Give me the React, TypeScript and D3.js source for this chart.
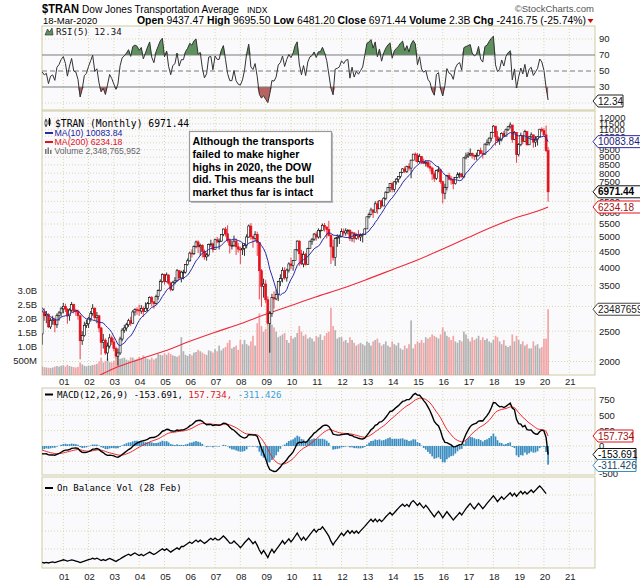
import React from 'react';
import * as d3 from 'd3';

// ---------- DATA ----------
// warm-up monthly closes Jan 1998 .. Feb 2000 (used for indicator seeding and first open)
const warmupCloses = [3250, 3450, 3580, 3600, 3420, 3350, 3200, 2700, 2640, 2900, 3060, 3149,
  3200, 3250, 3310, 3650, 3560, 3460, 3340, 3150, 2900, 3000, 2880, 2977, 2720, 2450];

// monthly bars Mar 2000 .. Mar 2020
const closes = [
  2880, 2800, 2830, 2580, 2700, 2720, 2620, 2810, 2860, 2947,
  3000, 2940, 2800, 2920, 3040, 2900, 2890, 2800, 2330, 2420, 2610, 2640,
  2750, 2850, 2960, 2760, 2800, 2560, 2300, 2340, 2130, 2240, 2380, 2310,
  2200, 2080, 2130, 2360, 2520, 2560, 2620, 2700, 2650, 2880, 2930, 2923,
  2900, 2950, 2890, 2960, 3060, 3200, 3100, 3060, 3230, 3370, 3600, 3798,
  3600, 3780, 3560, 3400, 3580, 3620, 3900, 3700, 3860, 3860, 4080, 4196,
  4440, 4420, 4660, 4820, 4650, 4700, 4500, 4320, 4380, 4730, 4750, 4560,
  4900, 4850, 4850, 5100, 5300, 5120, 4870, 4700, 4700, 4850, 4650, 4571,
  4550, 4600, 4700, 5000, 5420, 5010, 4950, 5100, 4800, 3900, 3480, 3537,
  3150, 2650, 2850, 3200, 3170, 3270, 3600, 3680, 3910, 3700, 3920, 4100,
  4050, 4200, 4550, 4850, 4420, 4100, 4400, 4080, 4590, 4850, 4920, 5107,
  5000, 5250, 5250, 5450, 5380, 5280, 5060, 4650, 4300, 4950, 4980, 5020,
  5200, 5150, 5230, 5250, 4950, 5150, 4950, 5050, 5000, 5050, 5100, 5306,
  5800, 5900, 6100, 6000, 6380, 6150, 6520, 6280, 6650, 6950, 7200, 7400,
  7100, 7500, 7650, 7800, 8050, 8250, 8100, 8400, 8300, 8800, 9200, 9140,
  8700, 9050, 8700, 8600, 8650, 8400, 8300, 7950, 7700, 8150, 8200, 7509,
  6900, 7200, 7850, 7650, 7600, 7400, 7750, 7900, 7950, 7780, 8950, 9070,
  9150, 9250, 9100, 9050, 9100, 9450, 9250, 9200, 9900, 10000, 10350, 10783,
  11300, 10450, 10150, 10250, 10700, 10500, 11000, 11250, 11400, 10250, 10800, 9170,
  9870, 10550, 10100, 10850, 9850, 10450, 10600, 10050, 10250, 10450, 11050, 10936,
  10600, 9437.47, 6971.44,
];
const highs = [
  2930, 2960, 2900, 2850, 2760, 2800, 2760, 2850, 2900, 2990,
  3080, 3060, 2960, 2960, 3100, 3060, 2950, 2930, 2820, 2500, 2680, 2720,
  2780, 2900, 3050, 2980, 2880, 2820, 2580, 2450, 2370, 2300, 2450, 2420,
  2380, 2230, 2200, 2400, 2560, 2620, 2660, 2740, 2780, 2920, 2960, 2980,
  3040, 3030, 3000, 3090, 3100, 3230, 3240, 3120, 3270, 3400, 3660, 3830,
  3800, 3850, 3800, 3600, 3620, 3720, 3950, 3920, 3900, 3930, 4100, 4270,
  4490, 4560, 4700, 4870, 4880, 4760, 4740, 4560, 4450, 4760, 4900, 4800,
  4940, 5000, 4950, 5110, 5320, 5380, 5450, 4950, 4860, 5050, 4950, 4780,
  4650, 4780, 4780, 5100, 5480, 5536, 5050, 5220, 5200, 4800, 3950, 3680,
  3640, 3230, 2900, 3290, 3350, 3400, 3620, 3800, 4000, 4000, 3960, 4150,
  4300, 4220, 4560, 4880, 4880, 4550, 4500, 4450, 4620, 4860, 4960, 5150,
  5200, 5330, 5280, 5520, 5540, 5400, 5630, 5100, 4900, 5000, 5100, 5090,
  5320, 5320, 5330, 5300, 5300, 5200, 5180, 5130, 5260, 5130, 5140, 5330,
  5800, 5980, 6200, 6130, 6500, 6520, 6550, 6580, 6700, 7000, 7220, 7400,
  7500, 7550, 7720, 7820, 8070, 8300, 8400, 8450, 8600, 8830, 9200, 9310,
  9280, 9220, 9050, 8900, 8800, 8800, 8650, 8380, 8100, 8200, 8400, 8250,
  7550, 7400, 7900, 8020, 7830, 7780, 7780, 8050, 8040, 8000, 9000, 9300,
  9350, 9590, 9300, 9170, 9300, 9500, 9650, 9450, 9950, 10250, 10400, 10850,
  11400, 11150, 10900, 10400, 10800, 10900, 11100, 11320, 11623, 11400, 10900, 10750,
  9980, 10770, 10600, 11000, 10900, 10500, 10800, 10600, 10500, 10500, 11080, 11200,
  11160, 11350, 9695.5,
];
const lows = [
  2263, 2700, 2650, 2560, 2540, 2620, 2480, 2560, 2700, 2780,
  2850, 2880, 2640, 2700, 2880, 2850, 2800, 2720, 2033, 2260, 2400, 2560,
  2560, 2680, 2800, 2700, 2650, 2480, 2100, 2200, 2100, 2013, 2200, 2260,
  2160, 2030, 1942, 2100, 2320, 2470, 2500, 2580, 2600, 2640, 2800, 2820,
  2800, 2840, 2780, 2880, 2890, 3050, 3000, 2950, 3040, 3150, 3350, 3570,
  3520, 3580, 3520, 3350, 3360, 3530, 3600, 3650, 3580, 3660, 3820, 4050,
  4170, 4300, 4380, 4600, 4440, 4350, 4300, 4230, 4200, 4330, 4650, 4460,
  4550, 4780, 4560, 4820, 5030, 5020, 4800, 4430, 4560, 4650, 4380, 4460,
  4100, 4380, 4350, 4600, 4970, 4900, 4620, 4850, 4350, 3160, 2988, 3200,
  3080, 2600, 2134, 2780, 2950, 3140, 3120, 3480, 3580, 3650, 3600, 3850,
  3950, 3900, 4200, 4500, 4040, 4070, 4000, 4050, 4070, 4580, 4720, 4860,
  4870, 4940, 4950, 5250, 5200, 4950, 5020, 4100, 4200, 4040, 4650, 4750,
  4990, 5050, 5050, 5100, 4850, 4830, 4800, 4900, 4900, 4850, 4800, 5080,
  5330, 5730, 5870, 5750, 6000, 5930, 6150, 6200, 6280, 6550, 6900, 6950,
  6950, 6950, 7350, 7460, 7700, 8000, 8000, 8000, 8150, 7700, 8800, 8700,
  8580, 8600, 8550, 8550, 8400, 8300, 8100, 7600, 7500, 7600, 8050, 7400,
  6403, 6600, 7050, 7600, 7350, 7100, 7350, 7700, 7700, 7750, 7700, 8850,
  8950, 9050, 8900, 8800, 8820, 9050, 9200, 8900, 9150, 9800, 9800, 10100,
  10750, 9800, 10000, 9850, 10100, 10400, 10500, 10900, 11100, 10000, 10200, 8636,
  9050, 9750, 9900, 10050, 9800, 9850, 10300, 9640, 9700, 9800, 10400, 10800,
  10500, 9340, 6481.2,
];
// monthly volume, billions
const volumesB = [
  0.30, 0.28, 0.27, 0.26, 0.25, 0.27, 0.30, 0.32, 0.30, 0.33,
  0.35, 0.30, 0.36, 0.32, 0.30, 0.28, 0.27, 0.29, 0.45, 0.38, 0.33, 0.31,
  0.34, 0.33, 0.36, 0.37, 0.40, 0.48, 0.62, 0.45, 0.50, 0.58, 0.46, 0.45,
  0.50, 0.55, 0.68, 0.58, 0.60, 0.62, 0.55, 0.52, 0.63, 0.62, 0.55, 0.58,
  0.65, 0.60, 0.70, 0.62, 0.58, 0.55, 0.62, 0.55, 0.60, 0.75, 0.72, 0.70,
  0.78, 0.72, 0.80, 0.75, 0.70, 0.68, 0.65, 0.70, 1.35, 0.85, 0.72, 0.68,
  0.75, 0.70, 0.80, 0.82, 0.90, 0.85, 0.80, 0.75, 0.72, 0.88, 0.85, 0.80,
  0.92, 0.85, 1.05, 0.88, 0.95, 1.00, 1.15, 1.25, 0.95, 1.00, 1.05, 0.90,
  1.25, 1.10, 1.25, 1.10, 1.05, 1.20, 1.40, 1.05, 1.85, 2.20, 1.75, 1.55,
  1.65, 1.75, 2.15, 1.80, 1.70, 1.55, 1.35, 1.40, 1.45, 1.50, 1.25, 1.15,
  1.40, 1.30, 1.35, 1.50, 1.75, 1.55, 1.40, 1.45, 1.30, 1.35, 1.30, 1.20,
  1.40, 1.35, 1.45, 1.25, 1.40, 1.50, 1.55, 2.40, 1.75, 1.60, 1.30, 1.35,
  1.35, 1.20, 1.25, 1.15, 1.35, 1.25, 1.15, 1.05, 1.10, 1.15, 1.10, 1.05,
  1.20, 1.15, 1.05, 1.20, 1.25, 1.30, 1.15, 1.05, 1.10, 1.20, 1.05, 1.00,
  1.20, 1.10, 1.05, 1.15, 0.95, 0.90, 1.05, 0.95, 1.10, 1.95, 0.95, 1.10,
  1.20, 1.15, 1.25, 1.15, 1.35, 1.30, 1.35, 1.45, 1.40, 1.35, 1.30, 1.45,
  1.70, 1.55, 1.40, 1.35, 1.25, 1.40, 1.20, 1.15, 1.25, 1.20, 1.55, 1.45,
  1.30, 1.20, 1.35, 1.25, 1.30, 1.40, 1.25, 1.35, 1.25, 1.30, 1.20, 1.15,
  1.25, 1.40, 1.35, 1.20, 1.10, 1.25, 1.05, 1.00, 1.05, 1.45, 1.20, 1.40,
  1.25, 1.10, 1.20, 1.05, 1.10, 0.95, 0.95, 1.20, 1.05, 1.10, 0.95, 1.00,
  1.30, 1.30, 2.35,
];
// MA(200)
const ma200Dates = ['2002-01', '2003-01', '2004-01', '2005-01', '2006-01', '2007-01', '2008-01', '2009-01', '2010-01',
  '2011-01', '2012-01', '2013-01', '2014-01', '2015-01', '2016-01', '2017-01', '2018-01', '2019-01', '2020-01', '2020-03'];
const ma200Values = [1730, 1900, 2030, 2160, 2320, 2480, 2640, 2830, 3020, 3220, 3420, 3660, 3930, 4220, 4580,
  4980, 5400, 5800, 6150, 6234.18];

// price ticks that are visible (10000, 7000, 3000 sit under the value tags)
const priceTicks = [12000, 11500, 11000, 10500, 9500, 9000, 8500, 8000, 7500, 6500, 6000, 5500,
  5000, 4500, 4000, 3500, 2500, 2000];
const priceGrid = [12000, 11500, 11000, 10500, 10000, 9500, 9000, 8500, 8000, 7500, 7000, 6500, 6000, 5500,
  5000, 4500, 4000, 3500, 3000, 2500, 2000];
const volTicks = [3.0, 2.5, 2.0, 1.5, 1.0, 0.5];
const volTickLabels = ['3.0B', '2.5B', '2.0B', '1.5B', '1.0B', '500M'];
const rsiTicks = [90, 70, 50, 30];
const macdTicks = [750, 500, 250, 0, -500];
const yearLabels = ['01', '02', '03', '04', '05', '06', '07', '08', '09', '10', '11', '12', '13', '14', '15',
  '16', '17', '18', '19', '20', '21'];

const annotation = ['Although the transports', 'failed to make higher', 'highs in 2020, the DOW',
  'did. This means the bull', 'market thus far is intact'];

// ---------- LAYOUT ----------
const PL = 42, PR = 595;
const rsiTop = 26, rsiBot = 110;
const mainTop = 111, mainBot = 375;
const macdTop = 388, macdBot = 475;
const obvTop = 477, obvBot = 568;

const MONO = "'DejaVu Sans Mono', monospace";
const SANS = "'Liberation Sans', Arial, sans-serif";
const GRID = '#d9d7b0';
const BORDER = '#cfcca0';
const PANEL = '#fafafd';

function ema(vals: number[], n: number) {
  const k = 2 / (n + 1);
  const out: number[] = [];
  let e = vals[0];
  vals.forEach((v, i) => { e = i === 0 ? v : v * k + e * (1 - k); out.push(e); });
  return out;
}
function rsiCalc(vals: number[], n: number) {
  const out: number[] = new Array(vals.length).fill(NaN);
  let ag = 0, al = 0;
  for (let i = 1; i < vals.length; i++) {
    const ch = vals[i] - vals[i - 1];
    const g = Math.max(ch, 0), l = Math.max(-ch, 0);
    if (i <= n) {
      ag += g / n; al += l / n;
      if (i === n) out[i] = al === 0 ? 100 : 100 - 100 / (1 + ag / al);
    } else {
      ag = (ag * (n - 1) + g) / n; al = (al * (n - 1) + l) / n;
      out[i] = al === 0 ? 100 : 100 - 100 / (1 + ag / al);
    }
  }
  return out;
}

function Tag({ y, text, stroke, color, bold, w }: any) {
  const h = 12;
  const x0 = 593;
  const x1 = x0 + w;
  return (
    <g>
      <path d={`M${x0},${y} L${x0 + 5},${y - h / 2} L${x1},${y - h / 2} L${x1},${y + h / 2} L${x0 + 5},${y + h / 2} Z`}
        fill="#fff" stroke={stroke} strokeWidth={1} />
      <text x={x0 + 5} y={y + 3.6} fontSize={10} fontFamily={SANS} fill={color} fontWeight={bold ? 'bold' : 'normal'}>{text}</text>
    </g>
  );
}

export default function App() {
  const W0 = warmupCloses.length;
  const all = [...warmupCloses, ...closes];
  const dates = closes.map((_, i) => new Date(2000, 2 + i, 1));
  const opens = closes.map((_, i) => (i === 0 ? warmupCloses[W0 - 1] : closes[i - 1]));

  const x = d3.scaleTime().domain([new Date(2001, 0, 1), new Date(2021, 0, 1)]).range([63.3, 569.3]);
  const yearXs = yearLabels.map((_, k) => x(new Date(2001 + k, 0, 1)));

  const yP = d3.scaleLog().domain([1811, 12634]).range([mainBot, mainTop]);
  const yV = d3.scaleLinear().domain([0, 1]).range([mainBot, mainBot - 28]);
  const yR = d3.scaleLinear().domain([1.25, 106.25]).range([rsiBot, rsiTop]);
  const yM = d3.scaleLinear().domain([-471.5, 943]).range([macdBot, macdTop]);

  // indicators
  const ma10 = all.map((_, i) => (i < 9 ? NaN : d3.mean(all.slice(i - 9, i + 1)) as number)).slice(W0);
  const e12 = ema(all, 12), e26 = ema(all, 26);
  const macdAll = all.map((_, i) => e12[i] - e26[i]);
  const sigAll = ema(macdAll, 9);
  const macd = macdAll.slice(W0), sig = sigAll.slice(W0);
  const hist = macd.map((m, i) => m - sig[i]);
  const rsi = rsiCalc(all, 5).slice(W0);

  const obv: number[] = [];
  let acc = 0;
  for (let i = 0; i < closes.length - 1; i++) {
    const prev = i === 0 ? warmupCloses[W0 - 1] : closes[i - 1];
    if (i > 0) acc += closes[i] > prev ? volumesB[i] : closes[i] < prev ? -volumesB[i] : 0;
    obv.push(acc);
  }
  const obvExt = d3.extent(obv) as [number, number];
  const yO = d3.scaleLinear().domain(obvExt).range([563, 486]);

  const lineMA10 = d3.line<number>().defined((d) => !isNaN(d)).x((_, i) => x(dates[i])).y((d) => yP(d))(ma10);
  const ma200Pts = ma200Dates.map((s, i) => [x(d3.timeParse('%Y-%m')(s) as Date), yP(ma200Values[i])] as [number, number]);
  const lineMA200 = d3.line().curve(d3.curveMonotoneX)(ma200Pts);
  const lineRSI = d3.line<number>().defined((d) => !isNaN(d)).x((_, i) => x(dates[i])).y((d) => yR(d))(rsi);
  const areaHi = d3.area<number>().x((_, i) => x(dates[i])).y0(yR(70)).y1((d) => yR(Math.max(d, 70)))(rsi);
  const areaLo = d3.area<number>().x((_, i) => x(dates[i])).y0(yR(30)).y1((d) => yR(Math.min(d, 30)))(rsi);
  const lineMACD = d3.line<number>().x((_, i) => x(dates[i])).y((d) => yM(d))(macd);
  const lineSig = d3.line<number>().x((_, i) => x(dates[i])).y((d) => yM(d))(sig);
  const lineOBV = d3.line<number>().x((_, i) => x(dates[i])).y((d) => yO(d))(obv);

  const vGrid = (top: number, bot: number) =>
    yearXs.map((gx, k) => <line key={'vg' + k} x1={gx} x2={gx} y1={top} y2={bot} stroke={GRID} strokeDasharray="1,2" />);
  const hGrid = (ys: number[], key: string) =>
    ys.map((gy, k) => <line key={key + k} x1={PL} x2={PR} y1={gy} y2={gy} stroke={GRID} strokeDasharray="1,2" />);
  const panel = (top: number, bot: number) => (
    <rect x={PL} y={top} width={PR - PL} height={bot - top} fill={PANEL} stroke={BORDER} strokeWidth={1} />
  );
  const xLabels = (yb: number, key: string) =>
    yearLabels.map((t, k) => (
      <text key={key + k} x={yearXs[k] + 1} y={yb} fontSize={9.5} fontFamily={SANS} textAnchor="middle" fill="#222">{t}</text>
    ));

  return (
    <svg width={640} height={584} style={{ position: 'absolute', left: 0, top: 0, background: '#fff' }}>
      <defs>
        <clipPath id="cRsi"><rect x={PL} y={rsiTop} width={PR - PL} height={rsiBot - rsiTop} /></clipPath>
        <clipPath id="cMain"><rect x={PL} y={mainTop} width={PR - PL} height={mainBot - mainTop} /></clipPath>
        <clipPath id="cMacd"><rect x={PL} y={macdTop} width={PR - PL} height={macdBot - macdTop} /></clipPath>
        <clipPath id="cObv"><rect x={PL} y={obvTop} width={PR - PL} height={obvBot - obvTop} /></clipPath>
      </defs>

      {/* Header */}
      <text x={42} y={12.5} fontSize={12.5} fontWeight="bold" fontFamily={SANS} fill="#000" textLength={37} lengthAdjust="spacingAndGlyphs">$TRAN</text>
      <text x={82} y={12.5} fontSize={10.5} fontFamily={SANS} fill="#000" textLength={157} lengthAdjust="spacingAndGlyphs">Dow Jones Transportation Average</text>
      <text x={247} y={12.5} fontSize={8.5} fontFamily={SANS} fill="#000">INDX</text>
      <text x={594} y={12} fontSize={9.5} fontFamily={SANS} fill="#555" textAnchor="end">©StockCharts.com</text>
      <text x={43} y={23.5} fontSize={9.5} fontFamily={SANS} fill="#000">18-Mar-2020</text>
      <text x={137} y={23.5} fontSize={10} fontFamily={SANS} fill="#000" textLength={449} lengthAdjust="spacingAndGlyphs">
        <tspan fontWeight="bold">Open</tspan><tspan> 9437.47  </tspan>
        <tspan fontWeight="bold">High</tspan><tspan> 9695.50  </tspan>
        <tspan fontWeight="bold">Low</tspan><tspan> 6481.20  </tspan>
        <tspan fontWeight="bold">Close</tspan><tspan> 6971.44  </tspan>
        <tspan fontWeight="bold">Volume</tspan><tspan> 2.3B  </tspan>
        <tspan fontWeight="bold">Chg</tspan><tspan> -2416.75 (-25.74%)</tspan>
      </text>
      <path d="M587.5,19 L593.5,19 L590.5,23 Z" fill="#d00" />

      {/* RSI panel */}
      {panel(rsiTop, rsiBot)}
      {vGrid(rsiTop, rsiBot)}
      {hGrid([yR(90), yR(10)], 'rg')}
      <g clipPath="url(#cRsi)">
        <path d={areaHi || ''} fill="#5f915f" stroke="none" />
        <path d={areaLo || ''} fill="#b86262" stroke="none" />
        <line x1={PL} x2={PR} y1={yR(70)} y2={yR(70)} stroke="#7a7a7a" />
        <line x1={PL} x2={PR} y1={yR(30)} y2={yR(30)} stroke="#7a7a7a" />
        <line x1={PL} x2={PR} y1={yR(50)} y2={yR(50)} stroke="#7a7a7a" strokeDasharray="5,3" />
        <path d={lineRSI || ''} fill="none" stroke="#333" strokeWidth={1} />
      </g>
      {rsiTicks.map((t) => (
        <text key={'rt' + t} x={599} y={yR(t) + 3.4} fontSize={9.5} fontFamily={SANS} fill="#222">{t}</text>
      ))}
      <path d="M45,35 L47.5,29 L49.5,32 L52,28 L53,35 Z" fill="#5f915f" stroke="#222" strokeWidth={0.6} />
      <text x={56} y={35} fontSize={9.1} fontFamily={MONO} fill="#111">RSI(5) 12.34</text>
      <Tag y={101} text="12.34" stroke="#222" color="#111" w={30} />

      {/* Main panel */}
      {panel(mainTop, mainBot)}
      {vGrid(mainTop, mainBot)}
      {hGrid(priceGrid.map((p) => yP(p)), 'pg')}
      <g clipPath="url(#cMain)">
        {volumesB.map((v, i) => {
          const down = closes[i] < opens[i];
          const xi = x(dates[i]);
          return <rect key={'v' + i} x={xi - 0.85} y={yV(v)} width={1.7} height={mainBot - yV(v)}
            fill={down ? '#f29b9b' : '#ababab'} opacity={0.9} />;
        })}
        <path d={lineMA200 || ''} fill="none" stroke="#ee2a3a" strokeWidth={1.1} />
        {closes.map((c, i) => {
          const o = opens[i];
          const h = Math.max(highs[i], o, c);
          const l = Math.min(lows[i], o, c);
          const up = c >= o;
          const col = up ? '#000' : '#e3121c';
          const xi = x(dates[i]);
          const yt = yP(Math.max(o, c)), yb = yP(Math.min(o, c));
          return (
            <g key={'c' + i}>
              <line x1={xi} x2={xi} y1={yP(h)} y2={yP(l)} stroke={col} strokeWidth={0.8} />
              <rect x={xi - 1} y={yt} width={2} height={Math.max(yb - yt, 0.8)} fill={up ? '#fff' : col} stroke={col} strokeWidth={0.6} />
            </g>
          );
        })}
        <path d={lineMA10 || ''} fill="none" stroke="#2a2aa8" strokeWidth={1} />
      </g>
      {priceTicks.map((p) => (
        <text key={'pt' + p} x={599} y={yP(p) + 3.4} fontSize={9.5} fontFamily={SANS} fill="#222">{p}</text>
      ))}
      {volTicks.map((v, k) => (
        <text key={'vt' + k} x={37} y={yV(v) + 3.4} fontSize={9.5} fontFamily={SANS} fill="#222" textAnchor="end">{volTickLabels[k]}</text>
      ))}
      <Tag y={yP(10083.84)} text="10083.84" stroke="#2a2aa8" color="#1a1a7a" w={50} />
      <Tag y={yP(6971.44)} text="6971.44" stroke="#111" color="#000" bold w={50} />
      <Tag y={yP(6234.18)} text="6234.18" stroke="#e3121c" color="#a01010" w={50} />
      <Tag y={yV(2.348765952)} text="23487659" stroke="#444" color="#222" w={50} />

      {/* main legend */}
      <g>
        <line x1={46} x2={46} y1={119} y2={127} stroke="#000" />
        <rect x={45} y={121} width={2} height={4} fill="#fff" stroke="#000" strokeWidth={0.6} />
        <line x1={49.5} x2={49.5} y1={118} y2={126} stroke="#000" />
        <rect x={48.5} y={119.5} width={2} height={5} fill="#000" />
        <text x={55} y={126.5} fontSize={9.7} fontFamily={MONO} fill="#000">$TRAN (Monthly) 6971.44</text>
        <line x1={45} x2={53} y1={133} y2={133} stroke="#2a2aa8" strokeWidth={2} />
        <text x={54.5} y={136} fontSize={8.8} fontFamily={SANS} fill="#1a1a9a">MA(10) 10083.84</text>
        <line x1={45} x2={53} y1={142} y2={142} stroke="#e3121c" strokeWidth={2} />
        <text x={54.5} y={145} fontSize={8.8} fontFamily={SANS} fill="#e3121c">MA(200) 6234.18</text>
        <rect x={45} y={149} width={1.5} height={5} fill="#777" />
        <rect x={47.5} y={147.5} width={1.5} height={6.5} fill="#777" />
        <rect x={50} y={150} width={1.5} height={4} fill="#777" />
        <text x={54.5} y={154} fontSize={8.6} fontFamily={SANS} fill="#666">Volume 2,348,765,952</text>
      </g>

      {/* annotation */}
      <rect x={191} y={133} width={142} height={70} fill="#bbb" />
      <rect x={189.5} y={131.5} width={142} height={70} fill="#fff" stroke="#9a9a9a" strokeWidth={1.2} />
      {annotation.map((t, k) => (
        <text key={'an' + k} x={192.5} y={145 + k * 12.75} fontSize={10.7} fontWeight="bold" fontFamily={SANS} fill="#000">{t}</text>
      ))}

      {xLabels(384.5, 'xl1')}

      {/* MACD panel */}
      {panel(macdTop, macdBot)}
      {vGrid(macdTop, macdBot)}
      {hGrid([750, 500, 250, 0, -250].map((v) => yM(v)), 'mg')}
      <g clipPath="url(#cMacd)">
        {hist.map((h, i) => {
          const xi = x(dates[i]);
          const y0 = yM(0), y1 = yM(h);
          return <rect key={'h' + i} x={xi - 0.85} y={Math.min(y0, y1)} width={1.7} height={Math.abs(y1 - y0)} fill="#3a8dbf" />;
        })}
        <path d={lineSig || ''} fill="none" stroke="#ee2a2a" strokeWidth={1} />
        <path d={lineMACD || ''} fill="none" stroke="#000" strokeWidth={1.4} />
      </g>
      {macdTicks.map((t) => (
        <text key={'mt' + t} x={599} y={(t === -500 ? 474 : yM(t)) + 3.4} fontSize={9.5} fontFamily={SANS} fill="#222">{t}</text>
      ))}
      <Tag y={436} text="157.734" stroke="#e3121c" color="#a01010" w={40} />
      <Tag y={454.5} text="-153.691" stroke="#111" color="#000" w={43} />
      <Tag y={465.5} text="-311.426" stroke="#3a8dbf" color="#1a4a6a" w={43} />
      <line x1={45} x2={53} y1={394.5} y2={394.5} stroke="#000" strokeWidth={2} />
      <text x={57} y={397.6} fontSize={9.1} fontFamily={MONO}>
        <tspan fill="#000">MACD(12,26,9) -153.691,</tspan>
        <tspan fill="#e3121c"> 157.734,</tspan>
        <tspan fill="#3aa0d8"> -311.426</tspan>
      </text>

      {/* OBV panel */}
      {panel(obvTop, obvBot)}
      {vGrid(obvTop, obvBot)}
      {hGrid([495, 513, 531, 549], 'og')}
      <g clipPath="url(#cObv)">
        <path d={lineOBV || ''} fill="none" stroke="#000" strokeWidth={1.3} />
      </g>
      <line x1={45} x2={53} y1={488} y2={488} stroke="#000" strokeWidth={2} />
      <text x={57} y={491} fontSize={9} fontFamily={MONO} fill="#000">On Balance Vol (28 Feb)</text>

      {xLabels(580, 'xl2')}
    </svg>
  );
}
